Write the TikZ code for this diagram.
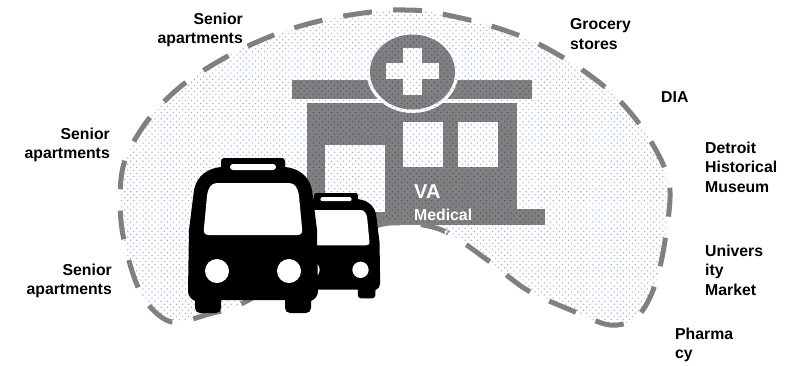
\documentclass[tikz,border=0pt]{standalone}
\usepackage{fontspec}
\setmainfont{Liberation Sans}
\usetikzlibrary{patterns.meta}
\definecolor{sitegray}{HTML}{808080}
\definecolor{dotblue}{HTML}{9DB5E2}
\tikzstyle{sitelabel} = [anchor=west, align=left, inner sep=0pt, font=\fontsize{15.8}{19.5}\selectfont\bfseries]
\tikzstyle{leftlabel} = [anchor=east, align=right, inner sep=0pt, font=\fontsize{15.8}{19.5}\selectfont\bfseries]
\tikzstyle{vatext} = [anchor=west, inner sep=0pt, text=white]
\tikzstyle{wall} = [fill=sitegray]
\tikzstyle{hole} = [fill=white]
\def\blobpath{plot [smooth cycle, tension=0.55] coordinates {(405,10) (431,12) (481,23) (530,40) (575,65) (615,96) (647,135) (669,182) (666,234) (655,285) (637,317) (610,325) (573,311) (527,290) (486,259) (444,231) (405,223) (370,228) (310,262) (245,302) (209,314) (172,322) (147,303) (132,271) (121,221) (123,167) (145,124) (180,87) (228,56) (279,33) (328,19) (379,11)}}
\tikzset{
  bus/.pic={
    \fill [black]
      (-32,3) to[out=90,in=180] (-29,0) -- (29,0) to[out=0,in=90] (32,3) -- (32,9)
      .. controls (50,11) and (57,22) .. (59,32) -- (64,72) -- (65,133)
      .. controls (65,138) and (62,141) .. (58,143) -- (58,150) to[out=-90,in=0] (53,155) -- (37,155)
      to[out=180,in=-90] (32,150) -- (32,142) -- (-32,142) -- (-32,150) to[out=-90,in=0] (-37,155)
      -- (-53,155) to[out=180,in=-90] (-58,150) -- (-58,143)
      .. controls (-62,141) and (-65,138) .. (-65,133) -- (-64,72) -- (-59,32)
      .. controls (-57,22) and (-50,11) .. (-32,9) -- cycle;
    \fill [white] (-20,6) -- (20,6) to[out=0,in=90] (23,9) to[out=-90,in=0] (20,12) -- (-20,12)
      to[out=180,in=-90] (-23,9) to[out=90,in=180] cycle;
    \fill [white] (-36,25) -- (36,25) .. controls (42,25) and (45,30) .. (46,38) -- (49,70)
      .. controls (50,75) and (48,77) .. (44,77) -- (-44,77)
      .. controls (-48,77) and (-50,75) .. (-49,70) -- (-46,38)
      .. controls (-45,30) and (-42,25) .. cycle;
    \fill [white] (-36,113) circle (12);
    \fill [white] (36,113) circle (12);
  }
}
\begin{document}
\begin{tikzpicture}[x=1pt,y=-1pt]
\useasboundingbox (0,0) rectangle (803,365);
% building
\fill [wall] (292,80) rectangle (532,99);
\fill [wall] (307,103) rectangle (517,225);
\fill [wall] (517,209) rectangle (545,225);
\fill [white] (412.5,72) ellipse [x radius=46, y radius=41];
\fill [wall] (412.5,72) ellipse [x radius=42.5, y radius=37.5];
\fill [hole] (403,48) rectangle (422,95);
\fill [hole] (386,63) rectangle (439,79);
\fill [hole] (325,145) rectangle (385,212);
\fill [hole] (403,122) rectangle (443,167);
\fill [hole] (458,122) rectangle (498,167);
% service area
\begin{scope}[blend mode=multiply]
\fill [pattern={Dots[distance=4.3pt,radius=0.85pt,angle=45]}, pattern color=dotblue] \blobpath;
\end{scope}
\draw [sitegray, line width=5pt, dash pattern=on 29pt off 21.3pt, dash phase=38.3pt] \blobpath;
% buses
\pic [scale=0.68] at (336,193) {bus};
\pic at (253,158) {bus};
% text
\node [vatext, font=\fontsize{20}{22}\selectfont\bfseries] (va) at (414,192) {VA};
\node [vatext, font=\fontsize{15.8}{18}\selectfont\bfseries] (medical) at (414,215) {Medical};
\node [vatext, rotate=-20, font=\fontsize{11}{12}\selectfont\bfseries] (fragment) at (444,233) {te};
\node [leftlabel] (senior-top) at (243,30) {Senior\\apartments};
\node [leftlabel] (senior-mid) at (110,145) {Senior\\apartments};
\node [leftlabel] (senior-low) at (112,281) {Senior\\apartments};
\node [sitelabel] (grocery) at (570,34) {Grocery\\stores};
\node [sitelabel] (dia) at (661,97) {DIA};
\node [sitelabel] (museum) at (705,167) {Detroit\\Historical\\Museum};
\node [sitelabel] (market) at (705,270) {Univers\\ity\\Market};
\node [sitelabel] (pharmacy) at (675,345) {Pharma\\cy};
\end{tikzpicture}
\end{document}
